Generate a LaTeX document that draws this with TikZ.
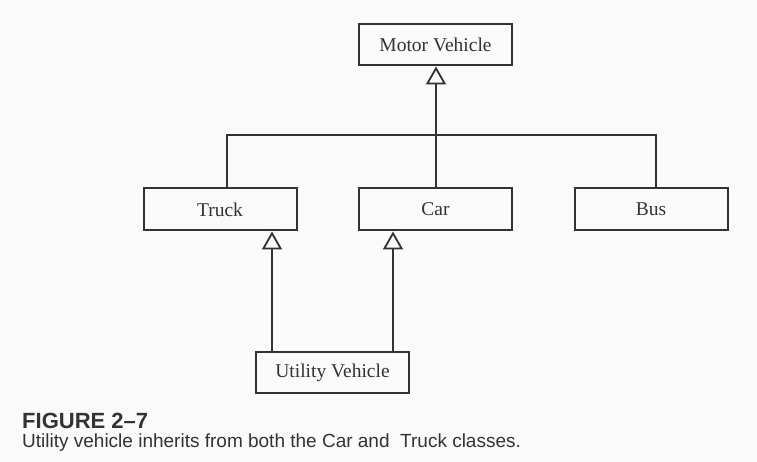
\documentclass[tikz,border=0pt]{standalone}
\usepackage{fontspec}
\setmainfont{Liberation Serif}
\newfontfamily\capfont{Liberation Sans}
\usetikzlibrary{arrows.meta}
\definecolor{ink}{HTML}{333333}
\definecolor{paper}{HTML}{FAFAFA}
\begin{document}
\begin{tikzpicture}[x=1pt,y=-1pt,
  cls/.style={draw=ink, line width=2pt, minimum width=153pt, minimum height=41pt,
    inner sep=0pt, font=\fontsize{19.5}{21}\selectfont, text=ink},
  link/.style={draw=ink, line width=1.8pt},
  inh/.style={draw=ink, line width=1.8pt, -{Triangle[open, length=18pt, width=20pt, line width=1.8pt]}}]
\fill[paper] (0,0) rectangle (757,462);
\useasboundingbox (0,0) rectangle (757,462);
\node[cls] (mv) at (435.5,45) {Motor Vehicle};
\node[cls, minimum height=42pt] (truck) at (220,209.5) {Truck};
\node[cls, minimum height=42pt] (car) at (435.5,209.5) {Car};
\node[cls, minimum height=42pt] (bus) at (651,209) {Bus};
\node[cls] (util) at (332.5,372.5) {Utility Vehicle};
\coordinate (j) at (436,135);
\draw[link] ([xshift=7pt]truck.north) |- (j);
\draw[link] ([xshift=5pt]bus.north) |- (j);
\draw[inh] (car.north -| j) -- (mv.south -| j);
\draw[inh] ([xshift=-60.5pt]util.north) -- ([xshift=-60.5pt]util.north |- truck.south);
\draw[inh] ([xshift=60.5pt]util.north) -- ([xshift=60.5pt]util.north |- car.south);
\node[anchor=base west, inner sep=0pt, text=ink, font=\capfont\bfseries\fontsize{22}{24}\selectfont] (fig) at (22,428) {FIGURE 2–7};
\node[anchor=base west, inner sep=0pt, text=ink, font=\capfont\fontsize{19}{21}\selectfont] (cap) at (22,447) {Utility vehicle inherits from both the Car and\ \ Truck classes.};
\end{tikzpicture}
\end{document}
